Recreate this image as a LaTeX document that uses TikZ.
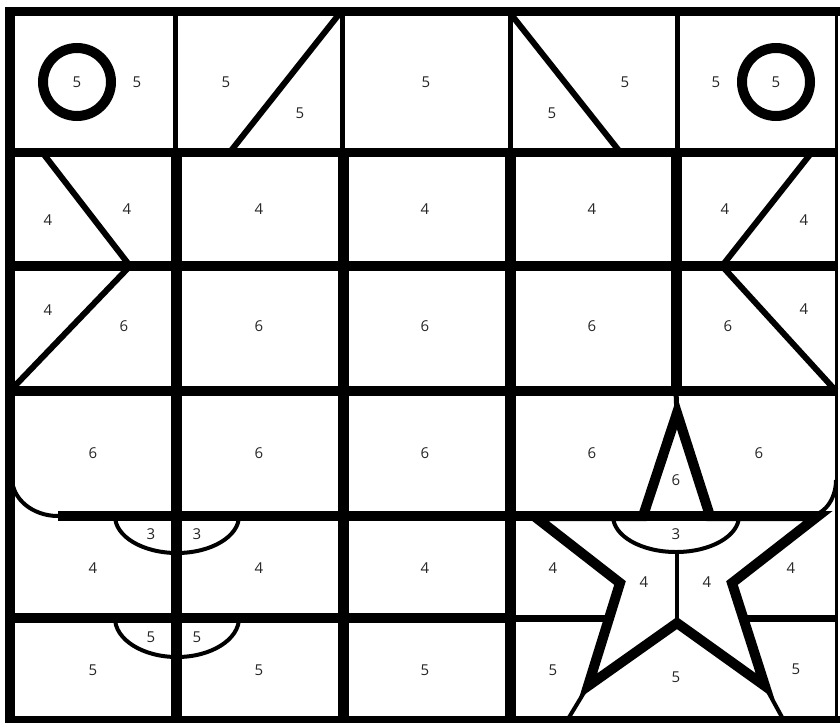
\documentclass[tikz,border=0pt]{standalone}
\usepackage{fontspec}
\setmainfont{Open Sans}
\begin{document}
\begin{tikzpicture}[x=1pt,y=-1pt,
  num/.style={font=\fontsize{15}{15}\selectfont, text=black!85, inner sep=0pt},
  frameline/.style={line width=#1, line cap=rect},
  gridline/.style={line width=#1},
  thinline/.style={line width=4pt},
  diag/.style={line width=6pt, line join=miter},
  starline/.style={line width=10pt, line join=miter, miter limit=4}]
\useasboundingbox (0,0) rectangle (840,723);
\fill[white] (0,0) rectangle (840,723);

% row 1 verticals (thin)
\foreach \x in {175,342,510,677} \draw[gridline=5pt] (\x,11) -- (\x,152);
% rows 2-6 verticals (thick)
\foreach \x in {176,343,510} \draw[gridline=11pt] (\x,152) -- (\x,718);
\draw[gridline=11pt] (676,152) -- (676,391);
\draw[gridline=5pt] (676,391) -- (677,416);

% horizontal lines
\draw[gridline=9pt] (10,152) -- (836,152);
\draw[gridline=10pt] (10,266) -- (836,266);
\draw[gridline=10pt] (10,391) -- (836,391);
\draw[gridline=10pt] (58,516) -- (816,516);
\draw[gridline=10pt] (10,618) -- (510,618);
\draw[gridline=7pt] (510,618) -- (609,618);
\draw[gridline=7pt] (743,618) -- (836,618);

% rounded corners in row 4
\draw[thinline] (12,478) arc[start angle=180, end angle=90, x radius=46, y radius=38];
\draw[thinline] (808,516) arc[start angle=90, end angle=0, x radius=28, y radius=36];

% outer frame
\draw[frameline=3pt] (836,11) -- (836,718);
\draw[gridline=9pt] (5,11) -- (840,11);
\draw[gridline=7pt] (5,719) -- (840,719);
\draw[gridline=10pt] (10,7) -- (10,723);

% circles
\draw[line width=10pt] (77,82) circle[radius=34];
\draw[line width=10pt] (776,82) circle[radius=34];

% diagonals
\draw[diag] (230,152) -- (340,13);
\draw[diag] (510,13) -- (620,152);
\draw[diag] (42,152) -- (130,266) -- (10,391);
\draw[diag] (812,152) -- (722,266) -- (836,391);

% half ellipses
\draw[thinline] (115,516) arc[start angle=180, end angle=0, x radius=62, y radius=37];
\draw[thinline] (115,618) arc[start angle=180, end angle=0, x radius=62, y radius=39];
\draw[thinline] (613,516) arc[start angle=180, end angle=0, x radius=63, y radius=36];
\draw[thinline] (677,552) -- (677,623);

% star
\draw[starline] (677,413) -- (710,516) -- (818,516) -- (732,583) -- (765,686)
  -- (677,623) -- (588,686) -- (620,583) -- (534,516) -- (643,516) -- cycle;
\draw[thinline] (588,686) -- (568,719);
\draw[thinline] (765,686) -- (783,719);

% labels row 1
\node[num] (a1) at (77,82) {5};
\node[num] (a2) at (137,82) {5};
\node[num] (a3) at (226,82) {5};
\node[num] (a4) at (300,113) {5};
\node[num] (a5) at (426,82) {5};
\node[num] (a6) at (625,82) {5};
\node[num] (a7) at (552,113) {5};
\node[num] (a8) at (716,82) {5};
\node[num] (a9) at (776,82) {5};
% row 2
\node[num] (b1) at (48,220) {4};
\node[num] (b2) at (127,209) {4};
\node[num] (b3) at (259,209) {4};
\node[num] (b4) at (425,209) {4};
\node[num] (b5) at (592,209) {4};
\node[num] (b6) at (725,209) {4};
\node[num] (b7) at (804,220) {4};
% row 3
\node[num] (c1) at (48,310) {4};
\node[num] (c2) at (124,326) {6};
\node[num] (c3) at (259,326) {6};
\node[num] (c4) at (425,326) {6};
\node[num] (c5) at (592,326) {6};
\node[num] (c6) at (728,326) {6};
\node[num] (c7) at (804,309) {4};
% row 4
\node[num] (d1) at (93,453) {6};
\node[num] (d2) at (259,453) {6};
\node[num] (d3) at (425,453) {6};
\node[num] (d4) at (592,453) {6};
\node[num] (d5) at (676,480) {6};
\node[num] (d6) at (759,453) {6};
% row 5
\node[num] (e1) at (151,534) {3};
\node[num] (e2) at (197,534) {3};
\node[num] (e3) at (93,568) {4};
\node[num] (e4) at (259,568) {4};
\node[num] (e5) at (425,568) {4};
\node[num] (e6) at (553,568) {4};
\node[num] (e7) at (676,534) {3};
\node[num] (e8) at (644,582) {4};
\node[num] (e9) at (707,582) {4};
\node[num] (e10) at (791,568) {4};
% row 6
\node[num] (f1) at (151,637) {5};
\node[num] (f2) at (197,637) {5};
\node[num] (f3) at (93,670) {5};
\node[num] (f4) at (259,670) {5};
\node[num] (f5) at (425,670) {5};
\node[num] (f6) at (553,670) {5};
\node[num] (f7) at (676,677) {5};
\node[num] (f8) at (796,669) {5};
\end{tikzpicture}
\end{document}
